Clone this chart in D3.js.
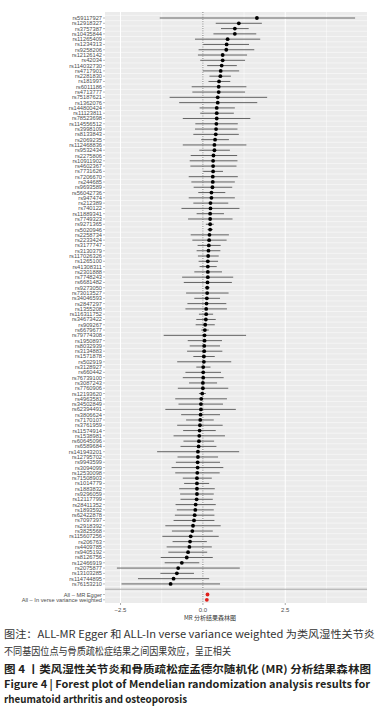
<!DOCTYPE html>
<html>
<head>
<meta charset="utf-8">
<script src="https://cdn.jsdelivr.net/npm/d3@7"></script>
<style>
  body { margin: 0; background: #fff; }
  svg { display: block; }
</style>
</head>
<body>
<svg id="chart" width="378" height="708"></svg>
<script>
const snps = ["rs59117927","rs12918327","rs3757387","rs10435844","rs11265409","rs1234313","rs9258206","rs12126142","rs42034","rs114032730",
  "rs4717901","rs2281830","rs181997","rs6011186","rs4713777","rs75187621","rs1362076","rs144800424","rs11123811","rs78523698",
  "rs114556512","rs3998109","rs8133843","rs2069235","rs112468836","rs9532434","rs2275806","rs10911902","rs4602367","rs7731626",
  "rs7206670","rs244685","rs9693589","rs56042736","rs947474","rs212389","rs740122","rs11889341","rs7749323","rs9271365",
  "rs5020946","rs2258734","rs2233424","rs3177747","rs3130379","rs117026326","rs1265100","rs41308311","rs2301888","rs7748243",
  "rs6681482","rs9273050","rs73013527","rs34046593","rs2847297","rs1355208","rs116311752","rs34673422","rs909267","rs6679677",
  "rs79774308","rs1950897","rs8032939","rs3134883","rs1571878","rs502919","rs3128927","rs660442","rs76739100","rs3087243",
  "rs7760906","rs12193620","rs4963581","rs34502849","rs62394491","rs3806624","rs7170107","rs3761959","rs11574914","rs1538981",
  "rs60645096","rs6589684","rs141943201","rs12795702","rs9943599","rs3094099","rs12530098","rs71508903","rs1014779","rs1883832",
  "rs9296059","rs12117799","rs28411352","rs1893592","rs62422878","rs7097397","rs2918392","rs3825568","rs115607256","rs206763",
  "rs4409785","rs9405192","rs8126756","rs12466919","rs2075877","rs13103285","rs114744895","rs76153210"];

const est = [1.64,1.09,0.97,0.97,0.75,0.72,0.71,0.60,0.60,0.57,
  0.54,0.53,0.49,0.48,0.48,0.45,0.45,0.42,0.42,0.42,
  0.41,0.40,0.39,0.37,0.35,0.35,0.32,0.31,0.31,0.31,
  0.30,0.30,0.29,0.26,0.26,0.23,0.23,0.22,0.22,0.22,
  0.22,0.20,0.19,0.18,0.17,0.16,0.15,0.15,0.15,0.15,
  0.14,0.13,0.13,0.12,0.11,0.10,0.10,0.09,0.07,0.06,
  0.05,0.05,0.04,0.04,0.03,0.03,0.01,0.01,0.01,0.00,
  0.00,-0.02,-0.05,-0.06,-0.06,-0.07,-0.08,-0.09,-0.10,-0.11,
  -0.12,-0.13,-0.15,-0.15,-0.16,-0.16,-0.17,-0.18,-0.18,-0.18,
  -0.18,-0.19,-0.22,-0.23,-0.25,-0.27,-0.30,-0.32,-0.37,-0.39,
  -0.41,-0.45,-0.49,-0.64,-0.75,-0.79,-0.89,-0.98];

const lo = [-1.31,0.39,0.55,0.32,-0.24,0.01,-0.13,-0.15,-0.08,0.13,
  0.00,0.20,0.17,-0.34,-0.32,-1.01,-0.72,-0.10,-0.08,-0.61,
  -0.23,-0.24,-0.29,-0.05,-0.61,-0.11,-0.37,-0.40,-0.38,0.01,
  -0.43,-0.35,-0.28,-0.14,-0.43,-0.29,-0.65,-0.19,-0.45,0.09,
  0.14,-0.37,-0.32,-0.16,-0.19,-0.15,-0.13,-0.10,-0.26,-0.63,
  -0.58,0.06,-0.51,-0.26,-0.47,-0.53,-0.12,-0.20,-0.22,-0.05,
  -1.19,-0.46,-0.40,-0.48,-0.29,-0.78,-0.20,-0.53,-0.61,-0.42,
  -0.76,-0.12,-0.84,-0.74,-1.14,-0.66,-0.51,-0.78,-0.60,-0.89,
  -0.59,-0.68,-1.39,-0.77,-0.82,-0.95,-0.84,-0.61,-0.57,-0.72,
  -0.69,-0.68,-0.83,-0.79,-0.85,-0.89,-1.14,-0.94,-1.23,-0.92,
  -1.10,-1.05,-1.28,-1.16,-2.61,-1.29,-1.97,-2.47];

const hi = [4.62,1.79,1.39,1.62,1.74,1.40,1.56,1.34,1.28,1.03,
  1.10,0.85,0.83,1.32,1.28,1.95,1.65,0.97,0.94,1.44,
  1.06,1.05,1.09,0.79,1.32,0.82,1.04,1.05,1.02,0.61,
  1.06,0.97,0.89,0.68,0.97,0.77,1.11,0.64,0.90,0.33,
  0.30,0.79,0.72,0.54,0.53,0.48,0.46,0.42,0.58,0.92,
  0.88,0.21,0.78,0.52,0.71,0.73,0.31,0.39,0.36,0.18,
  1.31,0.58,0.52,0.59,0.36,0.86,0.23,0.55,0.63,0.43,
  0.77,0.09,0.73,0.61,1.00,0.52,0.33,0.60,0.39,0.67,
  0.34,0.41,1.10,0.46,0.52,0.62,0.51,0.27,0.19,0.36,
  0.33,0.30,0.39,0.33,0.35,0.35,0.54,0.30,0.48,0.12,
  0.27,0.13,0.30,-0.11,1.12,-0.27,0.19,0.52];

const summaryLabels = ["All – MR Egger", "All – In verse variance weighted"];
const summaryEst = [0.14, 0.12];
const summaryLo = [0.11, 0.10];
const summaryHi = [0.17, 0.14];

const xTicks = [-2.5, 0, 2.5];
const xMinor = [-1.25, 1.25, 3.75];
const xTitle = "MR 分析结果森林图";

const captionLines = [
  "图注：ALL-MR Egger 和 ALL-In verse variance weighted 为类风湿性关节炎",
  "不同基因位点与骨质疏松症结果之间因果效应，呈正相关",
  "图 4 丨类风湿性关节炎和骨质疏松症孟德尔随机化 (MR) 分析结果森林图",
  "Figure 4   |   Forest plot of Mendelian randomization analysis results for",
  "rheumatoid arthritis and osteoporosis"
];

// rows: snps, a blank separator row, then the two summary estimates
const rows = snps.map((s, i) => ({ key: s, label: s, est: est[i], lo: lo[i], hi: hi[i], summary: false }));
rows.push({ key: "__sep", label: "", sep: true });
summaryLabels.forEach((s, i) => rows.push({ key: "__s" + i, label: s, est: summaryEst[i], lo: summaryLo[i], hi: summaryHi[i], summary: true }));

const panel = { left: 105, right: 367, top: 12, bottom: 603 };

const svg = d3.select("#chart");

// ggplot-like 5% expansion of the data range
const xmin = d3.min(lo), xmax = d3.max(hi);
const pad = (xmax - xmin) * 0.05;
const x = d3.scaleLinear().domain([xmin - pad, xmax + pad]).range([panel.left, panel.right]);
const y = d3.scalePoint().domain(rows.map(d => d.key)).range([18, 599.8]);
const step = y.step();

svg.append("rect")
  .attr("x", panel.left).attr("y", panel.top)
  .attr("width", panel.right - panel.left).attr("height", panel.bottom - panel.top)
  .attr("fill", "#EBEBEB");

const grid = svg.append("g");
grid.selectAll(".hgrid").data(rows).enter().append("line")
  .attr("x1", panel.left).attr("x2", panel.right)
  .attr("y1", d => y(d.key) - step / 2).attr("y2", d => y(d.key) - step / 2)
  .attr("stroke", "#fff").attr("stroke-width", 0.5);
grid.selectAll(".minor").data(xMinor).enter().append("line")
  .attr("x1", d => x(d)).attr("x2", d => x(d))
  .attr("y1", panel.top).attr("y2", panel.bottom)
  .attr("stroke", "#fff").attr("stroke-width", 0.5);
grid.selectAll(".major").data(xTicks).enter().append("line")
  .attr("x1", d => x(d)).attr("x2", d => x(d))
  .attr("y1", panel.top).attr("y2", panel.bottom)
  .attr("stroke", "#fff").attr("stroke-width", 1);

// dotted reference line at 0
svg.append("line")
  .attr("x1", x(0)).attr("x2", x(0))
  .attr("y1", panel.top).attr("y2", panel.bottom)
  .attr("stroke", "#444").attr("stroke-width", 0.7)
  .attr("stroke-dasharray", "1,1.3");

// separator above the summary rows
svg.append("line")
  .attr("x1", panel.left).attr("x2", panel.right)
  .attr("y1", y("__sep")).attr("y2", y("__sep"))
  .attr("stroke", "#a8a8a8").attr("stroke-width", 1);

const marks = rows.filter(d => !d.sep);

svg.append("g").selectAll("line").data(marks).enter().append("line")
  .attr("x1", d => x(d.lo)).attr("x2", d => x(d.hi))
  .attr("y1", d => y(d.key)).attr("y2", d => y(d.key))
  .attr("stroke", d => d.summary ? "#e0201b" : "#555").attr("stroke-width", 0.9);

svg.append("g").selectAll("circle").data(marks).enter().append("circle")
  .attr("cx", d => x(d.est)).attr("cy", d => y(d.key))
  .attr("r", 1.9)
  .attr("fill", d => d.summary ? "#e0201b" : "#000");

// y axis labels + ticks
const yAxis = svg.append("g");
yAxis.selectAll("line").data(marks).enter().append("line")
  .attr("x1", panel.left - 2).attr("x2", panel.left)
  .attr("y1", d => y(d.key)).attr("y2", d => y(d.key))
  .attr("stroke", "#555").attr("stroke-width", 0.4);
yAxis.selectAll("text").data(marks).enter().append("text")
  .attr("x", panel.left - 3).attr("y", d => y(d.key))
  .attr("dy", "0.35em")
  .attr("text-anchor", "end")
  .attr("font-family", "Liberation Sans, Arial, sans-serif")
  .attr("font-size", "5.7px")
  .attr("fill", "#4D4D4D")
  .text(d => d.label);

// x axis
const xAxis = svg.append("g");
xAxis.selectAll("line").data(xTicks).enter().append("line")
  .attr("x1", d => x(d)).attr("x2", d => x(d))
  .attr("y1", panel.bottom).attr("y2", panel.bottom + 2)
  .attr("stroke", "#555").attr("stroke-width", 0.5);
xAxis.selectAll("text").data(xTicks).enter().append("text")
  .attr("x", d => x(d)).attr("y", panel.bottom + 8.5)
  .attr("text-anchor", "middle")
  .attr("font-family", "Liberation Sans, Arial, sans-serif")
  .attr("font-size", "6px")
  .attr("fill", "#4D4D4D")
  .text(d => d3.format(".1f")(d).replace("-", "\u2212"));

svg.append("text")
  .attr("x", 210).attr("y", 620)
  .attr("text-anchor", "middle")
  .attr("font-family", "Noto Sans CJK SC, sans-serif")
  .attr("font-size", "6px")
  .attr("fill", "#333")
  .text(xTitle);

// caption
const capY = [637.5, 654.5, 673, 688.3, 703];
const capW = [371, 227, 367, 366, 183];
const capWeight = [400, 400, 600, 700, 700];
svg.append("g").selectAll("text").data(captionLines).enter().append("text")
  .attr("x", 4).attr("y", (d, i) => capY[i])
  .attr("font-family", "Noto Sans CJK SC, sans-serif")
  .attr("font-size", "10.5px")
  .attr("font-weight", (d, i) => capWeight[i])
  .attr("fill", (d, i) => capWeight[i] > 400 ? "#231f20" : "#333")
  .attr("textLength", (d, i) => capW[i])
  .attr("lengthAdjust", "spacingAndGlyphs")
  .text(d => d);
</script>
</body>
</html>
